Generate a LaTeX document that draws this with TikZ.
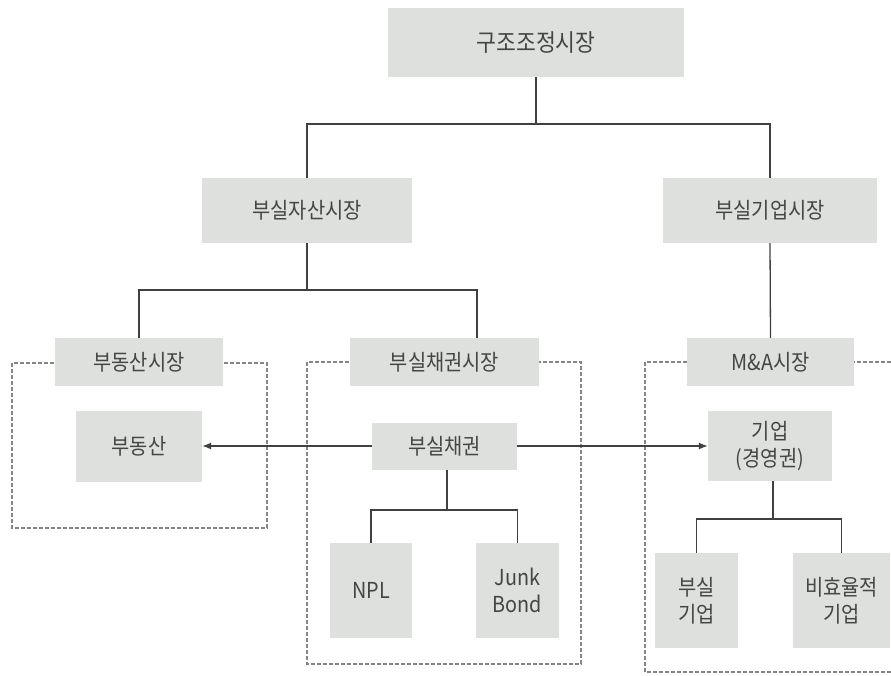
\documentclass[tikz,border=0pt]{standalone}
\usepackage{fontspec}
\setmainfont{Noto Sans CJK KR}[FakeStretch=0.9]
\usetikzlibrary{arrows.meta}
\definecolor{boxfill}{HTML}{DDE0DC}
\definecolor{txt}{HTML}{454545}
\definecolor{ln}{HTML}{404040}
\definecolor{dsh}{HTML}{858585}
\tikzset{
  box/.style={fill=boxfill, draw=none, inner sep=0pt, align=center, text=txt,
    font=\fontsize{22}{27}\selectfont},
  conn/.style={draw=ln, line width=1.3pt},
  arr/.style={conn, -{Latex[length=9pt,width=7pt]}},
  dashbox/.style={draw=dsh, line width=2pt, dash pattern=on 4pt off 2pt}
}
\begin{document}
\begin{tikzpicture}[x=1pt,y=-1pt]
\useasboundingbox (0,0) rectangle (891,675);
\clip (0,0) rectangle (891,675);
% dashed frames
\draw[dashbox] (12,363) rectangle (267,528);
\draw[dashbox] (307,362) rectangle (581,664);
\draw[dashbox] (645,362) rectangle (905,672);
% boxes
\node[box, minimum width=296, minimum height=69, font=\fontsize{24}{27}\selectfont] (top) at (536,42.5) {구조조정시장};
\node[box, minimum width=210, minimum height=65] (asset) at (307,210.5) {부실자산시장};
\node[box, minimum width=214, minimum height=65] (firmmkt) at (770,210.5) {부실기업시장};
\node[box, minimum width=168, minimum height=48] (realmkt) at (139,362) {부동산시장};
\node[box, minimum width=189, minimum height=48] (nplmkt) at (444.5,362) {부실채권시장};
\node[box, minimum width=167, minimum height=48] (mnamkt) at (770.5,362) {M\&A시장};
\node[box, minimum width=126, minimum height=71] (realestate) at (139,446) {부동산};
\node[box, minimum width=145, minimum height=47] (npl) at (444.5,446) {부실채권};
\node[box, minimum width=124, minimum height=70] (firm) at (770,446) {기업\\(경영권)};
\node[box, minimum width=82, minimum height=95] (NPL) at (371,590.5) {NPL};
\node[box, minimum width=83, minimum height=95] (junk) at (517.5,590.5) {Junk\\Bond};
\node[box, minimum width=83, minimum height=95] (badfirm) at (696.5,600.5) {부실\\기업};
\node[box, minimum width=97, minimum height=95] (ineff) at (841.5,600.5) {비효율적\\기업};
% junction coordinates
\coordinate (j1) at (537,124);
\coordinate (j2) at (307,290);
\coordinate (k2) at (477,338);
\coordinate (j3) at (447,510);
\coordinate (j4) at (773,519);
% connectors
\draw[conn] (top.south) -- (top.south |- j1);
\draw[conn] (asset.north) |- (firmmkt.north |- j1) -- (firmmkt.north);
\draw[conn] (asset.south) -- (j2);
\draw[conn] (realmkt.north) |- (k2 |- j2) -- (k2);
\draw[conn] (firmmkt.south) -- (mnamkt.north);
\draw[arr] (npl.west) -- (realestate.east);
\draw[arr] (npl.east) -- (firm.west);
\draw[conn] (npl.south -| j3) -- (j3);
\draw[conn] (NPL.north) |- (junk.north |- j3) -- (junk.north);
\draw[conn] (firm.south -| j4) -- (j4);
\draw[conn] (badfirm.north) |- (ineff.north |- j4) -- (ineff.north);
\end{tikzpicture}
\end{document}
